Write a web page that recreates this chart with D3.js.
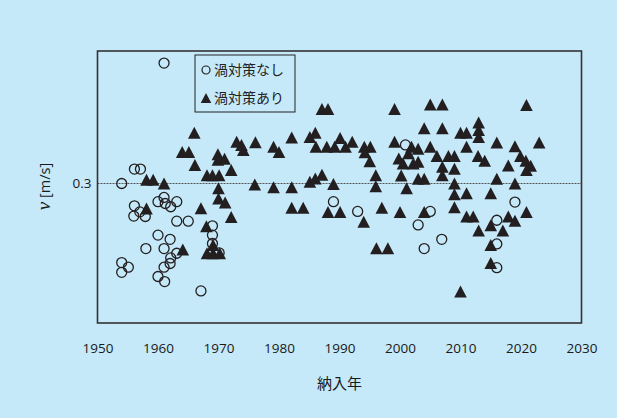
<!DOCTYPE html>
<html>
<head>
<meta charset="utf-8">
<script src="https://cdn.jsdelivr.net/npm/d3@7"></script>
<style>
  html, body { margin: 0; padding: 0; background: #c5e9f8; }
  svg { display: block; }
</style>
</head>
<body>
<svg id="chart" width="617" height="418"></svg>
<script>
// Delivery year and flow velocity v [m/s], units without vortex countermeasures
const noneYears = [1961.0, 1956.1, 1957.1, 1954.0, 1956.1, 1957.0, 1956.0, 1957.9, 1960.0, 1961.0,
  1961.2, 1962.1, 1963.1, 1963.1, 1965.0, 1969.0, 1969.0, 1969.0, 1970.1, 1960.0,
  1962.0, 1958.0, 1961.0, 1963.1, 1962.1, 1962.0, 1961.0, 1960.0, 1961.1, 1954.0,
  1955.1, 1954.0, 1967.1, 1989.0, 1993.0, 2000.9, 2003.0, 2005.0, 2006.9, 2004.0,
  2019.0, 2016.0, 2016.0, 2016.0];
const noneV = [0.559, 0.331, 0.331, 0.300, 0.252, 0.239, 0.230, 0.229, 0.261, 0.270,
  0.257, 0.250, 0.261, 0.219, 0.219, 0.209, 0.189, 0.171, 0.151, 0.189,
  0.180, 0.160, 0.160, 0.150, 0.140, 0.128, 0.120, 0.100, 0.089, 0.130,
  0.120, 0.109, 0.069, 0.261, 0.240, 0.383, 0.211, 0.240, 0.180, 0.160,
  0.260, 0.221, 0.170, 0.119];

// Units with vortex countermeasures
const withYears = [1958.1, 1959.2, 1961.0, 1958.1, 1966.0, 1964.0, 1965.1, 1966.1, 1968.1, 1969.0,
  1970.1, 1969.9, 1969.9, 1971.0, 1972.1, 1970.0, 1970.0, 1971.1, 1967.1, 1972.1,
  1968.0, 1964.1, 1968.1, 1969.1, 1969.1, 1970.2, 1973.0, 1973.8, 1974.1, 1976.1,
  1976.0, 1979.1, 1980.0, 1979.1, 1982.1, 1982.1, 1982.1, 1984.0, 1985.1, 1986.0,
  1986.1, 1985.1, 1986.0, 1987.1, 1987.1, 1988.1, 1987.9, 1989.2, 1990.1, 1991.0,
  1992.1, 1989.0, 1988.1, 1990.1, 1994.1, 1995.1, 1994.2, 1995.0, 1996.0, 1996.0,
  1994.0, 1997.0, 1996.1, 1998.0, 1999.1, 1999.1, 2000.0, 2000.2, 2001.1, 2001.9,
  2003.0, 2005.0, 2001.4, 1999.8, 2000.5, 2002.2, 2003.0, 2003.0, 2004.0, 2005.0,
  2007.0, 2004.0, 2007.0, 2006.1, 2008.0, 2009.0, 2007.0, 2007.0, 2009.0, 2010.0,
  2011.0, 2013.0, 2013.0, 2013.0, 2011.0, 2012.9, 2014.0, 2016.0, 2019.0, 2023.0,
  2020.9, 2017.9, 2019.9, 2020.8, 2021.6, 2020.9, 2009.0, 2009.0, 2011.0, 2016.0,
  2019.0, 2015.0, 2004.0, 2009.0, 2020.9, 2011.0, 2012.1, 2015.0, 2017.9, 2019.0,
  2013.0, 2017.0, 2015.0, 2015.0, 2010.0];
const withV = [0.308, 0.308, 0.300, 0.246, 0.409, 0.368, 0.368, 0.340, 0.318, 0.318,
  0.318, 0.363, 0.351, 0.353, 0.329, 0.290, 0.268, 0.259, 0.247, 0.228,
  0.208, 0.158, 0.150, 0.168, 0.150, 0.150, 0.390, 0.383, 0.372, 0.389,
  0.298, 0.379, 0.368, 0.292, 0.399, 0.292, 0.248, 0.248, 0.400, 0.409,
  0.379, 0.304, 0.311, 0.319, 0.460, 0.460, 0.379, 0.379, 0.398, 0.379,
  0.390, 0.299, 0.239, 0.239, 0.379, 0.379, 0.367, 0.348, 0.318, 0.294,
  0.218, 0.248, 0.161, 0.161, 0.460, 0.390, 0.239, 0.317, 0.290, 0.379,
  0.375, 0.379, 0.365, 0.354, 0.343, 0.343, 0.347, 0.310, 0.310, 0.470,
  0.470, 0.419, 0.419, 0.359, 0.359, 0.359, 0.336, 0.318, 0.332, 0.409,
  0.409, 0.431, 0.415, 0.400, 0.379, 0.359, 0.349, 0.388, 0.380, 0.388,
  0.469, 0.339, 0.359, 0.349, 0.338, 0.329, 0.300, 0.277, 0.279, 0.310,
  0.300, 0.279, 0.239, 0.249, 0.239, 0.229, 0.229, 0.210, 0.229, 0.220,
  0.199, 0.199, 0.168, 0.129, 0.068];

const xTicks = [1950, 1960, 1970, 1980, 1990, 2000, 2010, 2020, 2030];
const yTicks = [0.3];
const seriesNames = ["渦対策なし", "渦対策あり"];
const xTitle = "納入年";

const svg = d3.select("#chart");
const ink = "#231f20";
const plot = { left: 97.5, right: 581.5, top: 51, bottom: 323 };

const x = d3.scaleLinear().domain([1950, 2030]).range([plot.left, plot.right]);
const y = d3.scaleLinear().domain([0, 0.585]).range([plot.bottom, plot.top]);

// Upward triangle centred on its bounding box
const triangleUp = {
  draw(ctx, size) {
    const h = Math.sqrt(size);
    const w = h * 1.05;
    ctx.moveTo(0, -h / 2);
    ctx.lineTo(w / 2, h / 2);
    ctx.lineTo(-w / 2, h / 2);
    ctx.closePath();
  }
};
const triPath = d3.symbol().type(triangleUp).size(12 * 12)();

// Reference line at v = 0.3
svg.append("line")
  .attr("x1", plot.left).attr("x2", plot.right)
  .attr("y1", y(0.3)).attr("y2", y(0.3))
  .attr("stroke", "#555").attr("stroke-width", 1)
  .attr("stroke-dasharray", "2,1");

// Plot frame
svg.append("rect")
  .attr("x", plot.left).attr("y", plot.top)
  .attr("width", plot.right - plot.left).attr("height", plot.bottom - plot.top)
  .attr("fill", "none").attr("stroke", "#333").attr("stroke-width", 1.6);

// X axis labels
const xAxis = d3.axisBottom(x).tickValues(xTicks).tickSize(0).tickPadding(0).tickFormat(d3.format("d"));
const gx = svg.append("g").attr("transform", `translate(0,${plot.bottom + 20})`).call(xAxis);
gx.select(".domain").remove();
gx.selectAll("text")
  .attr("font-family", "'Open Sans', 'Liberation Sans', sans-serif")
  .attr("font-size", 13.5).attr("fill", "#1a1a1a").attr("dy", "0.71em").attr("y", 0);

// Y axis label (single tick)
const yAxis = d3.axisLeft(y).tickValues(yTicks).tickSize(0).tickPadding(6).tickFormat(d3.format(".1f"));
const gy = svg.append("g").attr("transform", `translate(${plot.left},0)`).call(yAxis);
gy.select(".domain").remove();
gy.selectAll("text")
  .attr("font-family", "'Open Sans', 'Liberation Sans', sans-serif")
  .attr("font-size", 13.5).attr("fill", "#1a1a1a");

// Axis titles
svg.append("text")
  .attr("x", (plot.left + plot.right) / 2).attr("y", 389)
  .attr("text-anchor", "middle")
  .attr("font-family", "'Noto Sans CJK JP', sans-serif")
  .attr("font-size", 15).attr("fill", "#1a1a1a")
  .text(xTitle);

const yTitle = svg.append("text")
  .attr("transform", `translate(50,${y(0.3) + 3}) rotate(-90)`)
  .attr("text-anchor", "middle")
  .attr("font-family", "'Liberation Serif', 'DejaVu Serif', serif")
  .attr("font-size", 19).attr("fill", "#1a1a1a");
yTitle.append("tspan").attr("font-style", "italic").text("ν");
yTitle.append("tspan").attr("font-family", "'Open Sans', sans-serif").attr("font-size", 14.5).text("  [m/s]");

// Points with countermeasures (filled triangles)
const withData = withYears.map((d, i) => ({ year: d, v: withV[i] }));
svg.append("g").selectAll("path").data(withData).join("path")
  .attr("d", triPath)
  .attr("transform", d => `translate(${x(d.year)},${y(d.v)})`)
  .attr("fill", ink);

// Points without countermeasures (open circles)
const noneData = noneYears.map((d, i) => ({ year: d, v: noneV[i] }));
svg.append("g").selectAll("circle").data(noneData).join("circle")
  .attr("cx", d => x(d.year)).attr("cy", d => y(d.v))
  .attr("r", 5)
  .attr("fill", "none").attr("stroke", ink).attr("stroke-width", 1.3);

// Legend
const lg = svg.append("g").attr("transform", "translate(195,55)");
lg.append("rect").attr("width", 100).attr("height", 57)
  .attr("fill", "#c5e9f8").attr("stroke", "#222").attr("stroke-width", 1);
lg.append("circle").attr("cx", 11).attr("cy", 15).attr("r", 4)
  .attr("fill", "none").attr("stroke", ink).attr("stroke-width", 1.2);
lg.append("path").attr("d", d3.symbol().type(triangleUp).size(10 * 10)())
  .attr("transform", "translate(11,43)").attr("fill", ink);
lg.selectAll("text.lab").data(seriesNames).join("text")
  .attr("class", "lab")
  .attr("x", 19).attr("y", (d, i) => 20 + i * 28)
  .attr("font-family", "'Noto Sans CJK JP', sans-serif")
  .attr("font-size", 14).attr("fill", "#222")
  .text(d => d);
</script>
</body>
</html>
